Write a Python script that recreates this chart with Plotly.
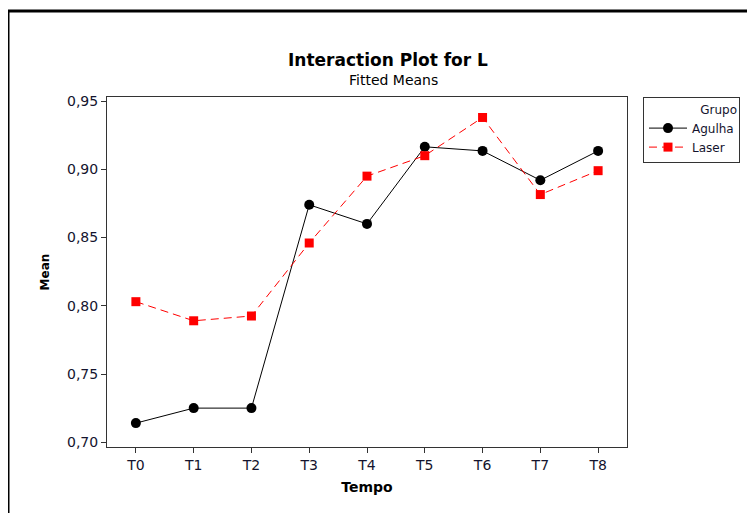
import plotly.graph_objects as go

tempo = ["T0", "T1", "T2", "T3", "T4", "T5", "T6", "T7", "T8"]
agulha = [0.714, 0.725, 0.725, 0.874, 0.860, 0.9165, 0.9135, 0.892, 0.9135]
laser = [0.803, 0.789, 0.7925, 0.846, 0.895, 0.910, 0.938, 0.8815, 0.899]
y_ticks = [0.70, 0.75, 0.80, 0.85, 0.90, 0.95]

FONT = "DejaVu Sans"
TXT = "#14142e"

# page is offset by the default 8px body margin; plot area in screen px:
PX0, PX1, PY0, PY1 = 107, 627, 97, 447
W = PX1 - PX0
H = PY1 - PY0


def px(x):
    return (x - PX0) / W


def py(y):
    return (PY1 - y) / H


fig = go.Figure()
fig.add_trace(go.Scatter(
    x=list(range(len(tempo))), y=agulha, name="Agulha", mode="lines+markers",
    line=dict(color="black", width=1),
    marker=dict(symbol="circle", size=10, color="black"),
))
fig.add_trace(go.Scatter(
    x=list(range(len(tempo))), y=laser, name="Laser", mode="lines+markers",
    line=dict(color="#ff0000", width=1, dash="8px,5px"),
    marker=dict(symbol="square", size=9, color="#ff0000"),
))

fig.update_layout(
    width=755, height=513,
    margin=dict(l=PX0 - 8, r=755 - (PX1 - 8), t=PY0 - 8, b=513 - (PY1 - 8)),
    paper_bgcolor="white", plot_bgcolor="white",
    separators=",.",
    font=dict(family=FONT, size=14, color=TXT),
    showlegend=True,
    legend=dict(
        x=px(643), y=1.0, xanchor="left", yanchor="top",
        bordercolor="#333333", borderwidth=1,
        font=dict(family=FONT, size=12, color=TXT),
        title=dict(text="Grupo", side="top right",
                   font=dict(family=FONT, size=12, color=TXT)),
        tracegroupgap=0, itemwidth=38,
    ),
    annotations=[
        dict(text="<b>Interaction Plot for L</b>", x=px(388), y=py(48),
             xref="paper", yref="paper", showarrow=False,
             font=dict(family=FONT, size=17, color="black")),
        dict(text="Fitted Means", x=px(393), y=py(70),
             xref="paper", yref="paper", showarrow=False,
             font=dict(family=FONT, size=14, color="black")),
    ],
    shapes=[
        dict(type="line", xref="paper", yref="paper",
             x0=px(8), x1=px(780), y0=py(11), y1=py(11),
             line=dict(color="black", width=3)),
        dict(type="line", xref="paper", yref="paper",
             x0=px(8), x1=px(8), y0=py(11), y1=py(540),
             line=dict(color="black", width=3)),
    ],
)

fig.update_xaxes(
    range=[-0.5, 8.5], tickmode="array",
    tickvals=list(range(len(tempo))), ticktext=tempo,
    ticks="outside", ticklen=5, tickcolor="#333333",
    showline=True, linecolor="#333333", linewidth=1, mirror=True,
    showgrid=False, zeroline=False,
    title=dict(text="<b>Tempo</b>", font=dict(family=FONT, size=14, color="black"), standoff=10),
)
fig.update_yaxes(
    range=[0.6965, 0.953], tickmode="array", tickvals=y_ticks, tickformat=".2f",
    ticks="outside", ticklen=5, tickcolor="#333333",
    showline=True, linecolor="#333333", linewidth=1, mirror=True,
    showgrid=False, zeroline=False,
    title=dict(text="<b>Mean</b>", font=dict(family=FONT, size=12, color="black"), standoff=14),
)

fig.write_html("out.html")
